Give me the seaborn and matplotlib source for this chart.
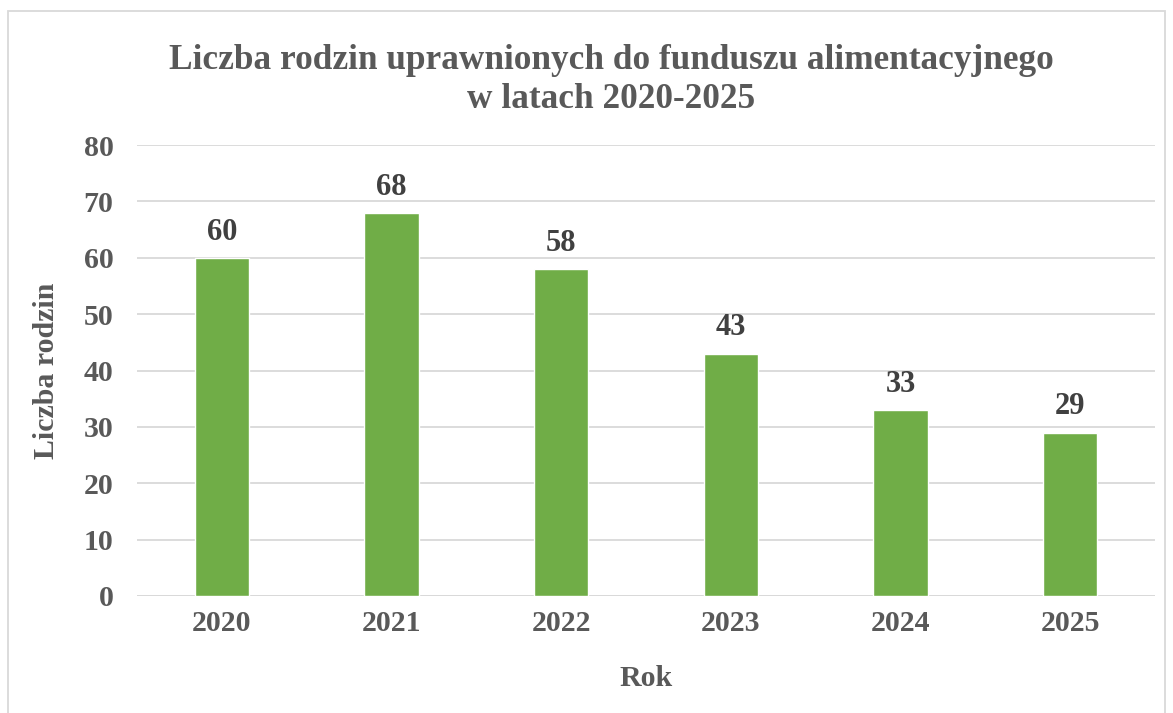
import matplotlib
matplotlib.use("Agg")
import matplotlib.pyplot as plt
import seaborn as sns
import pandas as pd
from matplotlib.patches import Rectangle

years = ["2020", "2021", "2022", "2023", "2024", "2025"]
values = [60, 68, 58, 43, 33, 29]
yticks = [0, 10, 20, 30, 40, 50, 60, 70, 80]

TXT = "#595959"
LBL = "#404040"
BAR = "#70AD47"
GRID = "#D9D9D9"

sns.set_theme(style="white")
plt.rcParams['font.family'] = ['Liberation Serif', 'DejaVu Serif']
plt.rcParams['font.weight'] = 'bold'

fig = plt.figure(figsize=(11.73, 7.13), dpi=100)
ax = fig.add_axes([137/1173, 1-596/713, (1155-137)/1173, (596-145)/713])

df = pd.DataFrame({"Rok": years, "Liczba": values})
sns.barplot(data=df, x="Rok", y="Liczba", color=BAR, saturation=1, width=0.32, ax=ax, zorder=3)

ax.set_ylim(0, 80)
ax.set_yticks(yticks)
ax.yaxis.grid(True, color=GRID, linewidth=1.3, zorder=0)
ax.set_axisbelow(True)
for s in ax.spines.values():
    s.set_visible(False)
ax.axhline(0, color=GRID, linewidth=1.3, zorder=2)
ax.tick_params(axis='both', length=0, labelsize=21.5, labelcolor=TXT)
ax.tick_params(axis='x', pad=10)
ax.tick_params(axis='y', pad=17)
for lbl in ax.get_xticklabels() + ax.get_yticklabels():
    lbl.set_fontweight('bold')

for p, v in zip(ax.patches, values):
    ax.annotate(str(v), (p.get_x() + p.get_width()/2, p.get_height()),
                xytext=(0, 8), textcoords='offset points', ha='center', va='bottom',
                fontsize=22, fontweight='bold', color=LBL)

ax.set_xlabel("Rok", fontsize=21.5, fontweight='bold', color=TXT, labelpad=20)
ax.set_ylabel("Liczba rodzin", fontsize=21.5, fontweight='bold', color=TXT, labelpad=17)

fig.text(611/1173, 1-80/713, "Liczba rodzin uprawnionych do funduszu alimentacyjnego\nw latach 2020-2025",
         ha='center', va='center', fontsize=25.4, fontweight='bold', color=TXT, linespacing=1.25)

fig.patches.append(Rectangle((8/1173, -0.05), (1165-8)/1173, 1-11/713+0.05,
                             transform=fig.transFigure, fill=False, edgecolor=GRID, linewidth=1.3))

fig.savefig("out.png", dpi=100, facecolor='white')
